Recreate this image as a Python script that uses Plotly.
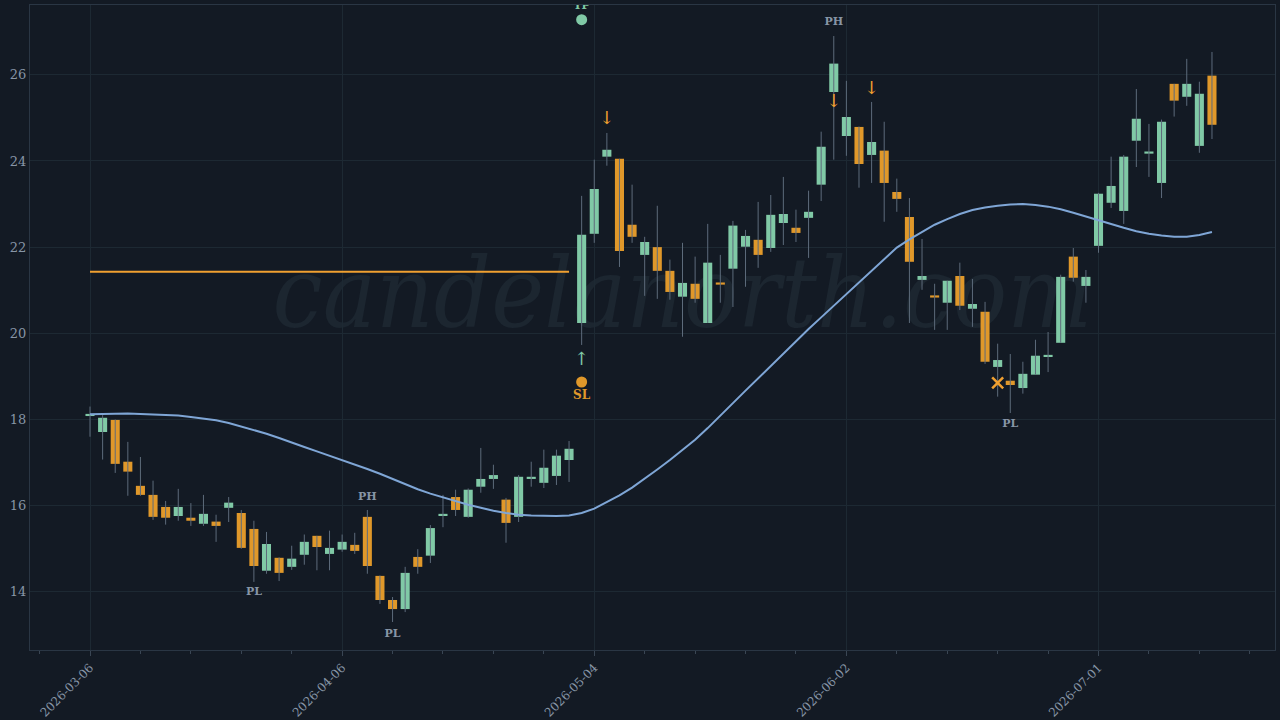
import base64
import plotly.graph_objects as go

# OHLC por vela (indice 0..89)
open_ = [18.08, 17.71, 17.99, 17.02, 16.46, 16.25, 15.97, 15.76, 15.72, 15.58,
         15.63, 15.95, 15.83, 15.46, 14.49, 14.79, 14.58, 14.86, 15.30, 14.88,
         14.98, 15.09, 15.74, 14.37, 13.81, 13.60, 14.81, 14.84, 15.76, 16.20,
         15.74, 16.44, 16.62, 16.14, 15.74, 16.62, 16.53, 16.69, 17.06, 20.24,
         22.31, 24.10, 24.05, 22.52, 21.82, 22.00, 21.45, 20.85, 21.15, 20.24,
         21.17, 21.50, 22.01, 22.17, 21.98, 22.56, 22.45, 22.68, 23.45, 25.60,
         24.58, 24.79, 24.14, 24.24, 23.28, 22.70, 21.24, 20.87, 20.71, 21.33,
         20.57, 20.50, 19.22, 18.90, 18.73, 19.04, 19.45, 19.78, 21.78, 21.10,
         22.03, 23.03, 22.84, 24.47, 24.17, 23.49, 25.79, 25.49, 24.35, 25.98]
high = [18.30, 18.10, 18.00, 17.48, 17.13, 16.58, 16.11, 16.39, 16.06, 16.25,
        15.79, 16.20, 15.90, 15.65, 15.39, 14.80, 15.07, 15.33, 15.30, 15.42,
        15.33, 15.37, 15.90, 14.38, 13.88, 14.58, 14.99, 15.55, 16.25, 16.37,
        16.40, 17.34, 16.95, 16.18, 16.71, 17.02, 17.30, 17.30, 17.50, 23.19,
        24.03, 24.65, 24.05, 23.45, 22.24, 22.96, 21.71, 22.10, 21.78, 22.54,
        21.82, 22.61, 22.40, 23.05, 23.21, 23.63, 22.87, 23.31, 24.68, 26.90,
        25.86, 24.80, 25.37, 24.91, 23.59, 23.14, 22.19, 21.15, 21.22, 21.64,
        21.26, 20.73, 19.76, 19.52, 19.34, 19.85, 20.03, 21.36, 21.98, 21.47,
        23.26, 24.10, 24.14, 25.67, 24.86, 24.96, 25.79, 26.37, 25.84, 26.53]
low = [17.60, 17.07, 16.76, 16.23, 16.23, 15.67, 15.56, 15.65, 15.53, 15.53,
       15.16, 15.62, 15.00, 14.23, 14.42, 14.25, 14.51, 14.63, 14.50, 14.50,
       14.93, 14.88, 14.42, 13.72, 13.30, 13.53, 14.42, 14.67, 15.50, 15.76,
       15.72, 16.30, 16.39, 15.14, 15.62, 16.44, 16.41, 16.48, 16.55, 19.73,
       22.10, 23.89, 21.54, 22.10, 20.87, 20.80, 20.78, 19.92, 20.71, 20.24,
       20.71, 20.61, 21.08, 21.52, 21.89, 22.05, 22.12, 21.75, 23.07, 24.03,
       24.12, 23.38, 23.49, 22.59, 22.82, 20.24, 21.01, 20.08, 20.08, 20.54,
       20.15, 19.29, 18.53, 18.15, 18.60, 19.04, 19.10, 19.78, 21.20, 20.71,
       21.87, 22.91, 22.54, 23.86, 23.63, 23.14, 25.03, 25.28, 24.19, 24.51]
close = [18.12, 18.04, 16.97, 16.79, 16.25, 15.74, 15.72, 15.97, 15.65, 15.81,
         15.53, 16.07, 15.02, 14.60, 15.11, 14.44, 14.77, 15.16, 15.04, 15.02,
         15.16, 14.95, 14.60, 13.81, 13.60, 14.44, 14.58, 15.48, 15.81, 15.90,
         16.37, 16.62, 16.71, 15.60, 16.67, 16.67, 16.88, 17.16, 17.32, 22.29,
         23.35, 24.26, 21.91, 22.24, 22.12, 21.45, 20.96, 21.17, 20.80, 21.64,
         21.13, 22.50, 22.26, 21.82, 22.75, 22.77, 22.33, 22.82, 24.33, 26.26,
         25.02, 23.93, 24.44, 23.49, 23.12, 21.66, 21.33, 20.83, 21.22, 20.64,
         20.68, 19.34, 19.38, 18.80, 19.06, 19.48, 19.50, 21.31, 21.29, 21.31,
         23.24, 23.42, 24.10, 24.98, 24.21, 24.91, 25.40, 25.79, 25.56, 24.84]

# media movil
media = [18.12, 18.13, 18.14, 18.14, 18.13, 18.12, 18.11, 18.09, 18.06, 18.02,
         17.98, 17.92, 17.84, 17.76, 17.67, 17.57, 17.46, 17.36, 17.26, 17.16,
         17.06, 16.96, 16.85, 16.74, 16.62, 16.50, 16.38, 16.28, 16.19, 16.10,
         16.02, 15.95, 15.88, 15.83, 15.79, 15.77, 15.76, 15.76, 15.77, 15.83,
         15.93, 16.08, 16.24, 16.42, 16.62, 16.84, 17.06, 17.29, 17.53, 17.80,
         18.08, 18.38, 18.67, 18.96, 19.25, 19.54, 19.82, 20.10, 20.37, 20.64,
         20.92, 21.20, 21.47, 21.74, 21.99, 22.18, 22.36, 22.52, 22.65, 22.77,
         22.86, 22.92, 22.96, 22.99, 23.00, 22.98, 22.94, 22.88, 22.80, 22.71,
         22.62, 22.53, 22.45, 22.37, 22.31, 22.27, 22.24, 22.24, 22.28, 22.35]

tick_idx = [0, 20, 40, 60, 80]
tick_txt = ['2026-03-06', '2026-04-06', '2026-05-04', '2026-06-02', '2026-07-01']

nivel = 21.43
nivel_ini, nivel_fin = 0, 38
entrada_idx = 39
tp, sl, flecha_up = 27.28, 18.87, 19.36
flechas_idx = [41, 59, 62]
flechas_y = [24.96, 25.35, 25.67]
cruz_idx, cruz_y = 72, 18.85
ph_idx, ph_y = [22, 59], [16.2, 27.23]
pl_idx, pl_y = [13, 24, 73], [13.98, 13.02, 17.88]
marca = 'candelanorth.com'

VERDE = '#80c9a6'
NARANJA = '#e0982a'
GRIS = '#8795a6'
FONDO = '#131a24'
REJILLA = '#1d2933'

n = len(open_)
x = list(range(n))

fig = go.Figure()

# mechas grises
wx, wy = [], []
for i in x:
    wx += [i, i, None]
    wy += [low[i], high[i], None]
fig.add_trace(go.Scatter(x=wx, y=wy, mode='lines', line=dict(color='#5d6b7b', width=1),
                         hoverinfo='skip', showlegend=False))

# cuerpos como barras (asi controlo el ancho)
base = [min(o, c) for o, c in zip(open_, close)]
alto = [max(abs(c - o), 0.05) for o, c in zip(open_, close)]
colores = [VERDE if c >= o else NARANJA for o, c in zip(open_, close)]
fig.add_trace(go.Bar(x=x, y=alto, base=base, width=0.72, marker=dict(color=colores, line=dict(width=0)),
                     showlegend=False))

fig.add_trace(go.Scatter(x=x, y=media, mode='lines', line=dict(color='#7fa6d6', width=2),
                         showlegend=False))

fig.add_trace(go.Scatter(x=[nivel_ini, nivel_fin], y=[nivel, nivel], mode='lines',
                         line=dict(color='#f0a030', width=2), showlegend=False))

fuente = dict(family='DejaVu Serif', size=11, color=GRIS)

# marcadores de la operacion
fig.add_trace(go.Scatter(x=[entrada_idx], y=[tp], mode='markers+text', text=['<b>TP</b>'],
                         textposition='top center', textfont=dict(family='DejaVu Serif', size=11, color=VERDE),
                         marker=dict(color=VERDE, size=11), showlegend=False))
fig.add_trace(go.Scatter(x=[entrada_idx], y=[sl], mode='markers+text', text=['<b>SL</b>'],
                         textposition='bottom center', textfont=dict(family='DejaVu Serif', size=12, color=NARANJA),
                         marker=dict(color=NARANJA, size=11), showlegend=False))
fig.add_trace(go.Scatter(x=[entrada_idx], y=[flecha_up], mode='text', text=['↑'],
                         textfont=dict(size=18, color=VERDE), showlegend=False))
fig.add_trace(go.Scatter(x=flechas_idx, y=flechas_y, mode='text', text=['↓'] * len(flechas_idx),
                         textfont=dict(size=18, color='#f0a030'), showlegend=False))
fig.add_trace(go.Scatter(x=[cruz_idx], y=[cruz_y], mode='markers',
                         marker=dict(symbol='x-thin', size=11, line=dict(color='#f0a030', width=2.5)),
                         showlegend=False))

fig.add_trace(go.Scatter(x=ph_idx, y=ph_y, mode='text', text=['<b>PH</b>'] * len(ph_idx),
                         textfont=fuente, showlegend=False))
fig.add_trace(go.Scatter(x=pl_idx, y=pl_y, mode='text', text=['<b>PL</b>'] * len(pl_idx),
                         textfont=fuente, showlegend=False))

# marca de agua como imagen SVG detras de las velas
svg = ('<svg xmlns="http://www.w3.org/2000/svg" width="1000" height="140">'
       '<text x="500" y="105" text-anchor="middle" font-family="DejaVu Serif" font-style="italic" '
       'font-size="96" fill="#1c2630">' + marca + '</text></svg>')
fig.add_layout_image(source='data:image/svg+xml;base64,' + base64.b64encode(svg.encode()).decode(),
                     xref='paper', yref='paper', x=0.524, y=0.555, sizex=0.75, sizey=0.22,
                     xanchor='center', yanchor='middle', sizing='contain', layer='below')

fig.update_layout(
    width=1280, height=720,
    paper_bgcolor=FONDO, plot_bgcolor=FONDO,
    margin=dict(l=30, r=5, t=5, b=70),
    font=dict(family='DejaVu Serif', size=12, color=GRIS),
    showlegend=False,
)
fig.update_xaxes(range=[-4.76, 94.0], tickvals=tick_idx, ticktext=tick_txt, tickangle=-45,
                 automargin=False,
                 showgrid=True, gridcolor=REJILLA, zeroline=False,
                 showline=True, linecolor='#2a3644', mirror=True,
                 ticks='outside', tickcolor='#3a4654', ticklen=5,
                 minor=dict(dtick=4, tick0=0, ticks='outside', ticklen=3, tickcolor='#3a4654', showgrid=False),
                 tickfont=dict(size=12, color=GRIS))
fig.update_yaxes(range=[12.65, 27.62], dtick=2, showgrid=True, gridcolor=REJILLA, zeroline=False,
                 automargin=False,
                 showline=True, linecolor='#2a3644', mirror=True, tickfont=dict(size=13, color=GRIS))

fig.write_html("out.html", config={'displayModeBar': False},
               post_script="document.body.style.margin='0';document.body.style.background='#131a24';")
